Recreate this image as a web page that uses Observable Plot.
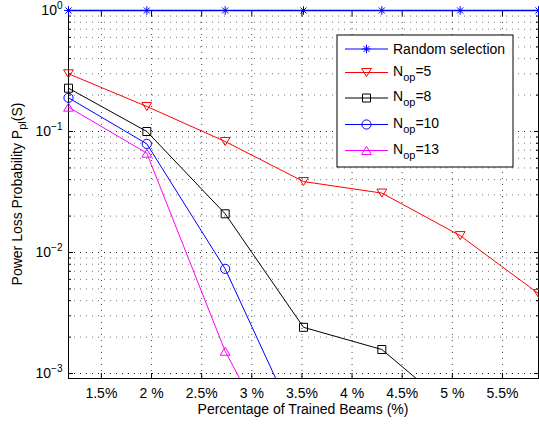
<!DOCTYPE html>
<html><head><meta charset="utf-8">
<script src="https://cdn.jsdelivr.net/npm/d3@7"></script>
<script src="https://cdn.jsdelivr.net/npm/@observablehq/plot@0.6"></script>
<style>
body{margin:0;background:#fff;}
#chart{width:539px;height:424px;}
</style></head><body><div id="chart"></div>
<script>
// ---- data ----
const percent = [1.171875, 1.953125, 2.734375, 3.515625, 4.296875, 5.078125, 5.859375];
const randomSel = [1, 1, 1, 1, 1, 1, 1];
const nop5  = [0.30, 0.161, 0.0827, 0.0386, 0.031, 0.0138, 0.00458];
const nop8  = [0.228, 0.100, 0.0209, 0.00241, 0.00158, 0.00045];
const nop10 = [0.19, 0.079, 0.00733, 0.00029];
const nop13 = [0.159, 0.0662, 0.00153, 0.000093];
const seriesNames = ["Random selection", "N_op=5", "N_op=8", "N_op=10", "N_op=13"];
const seriesColors = ["#0000ff", "#ff0000", "#000000", "#0000ff", "#ff00ff"];
const xTicks = [1.5, 2, 2.5, 3, 3.5, 4, 4.5, 5, 5.5];
const xTickLabels = ["1.5%", "2 %", "2.5%", "3 %", "3.5%", "4 %", "4.5%", "5 %", "5.5%"];
const yTicks = [1e-3, 1e-2, 1e-1, 1];
const yTickLabels = ["10^\u22123", "10^\u22122", "10^\u22121", "10^0"];
const xLabel = "Percentage of Trained Beams (%)";
const yLabelParts = ["Power Loss Probability P", "pl", "(S)"];
const yDomain = [9.1e-4, 1];

// ---- symbols (MATLAB-like markers) ----
const R = s => Math.sqrt(s / Math.PI);
const triDown = {draw(c, s){const r = R(s); c.moveTo(-r, -0.82*r); c.lineTo(r, -0.82*r); c.lineTo(0, 0.82*r); c.closePath();}};
const triUp = {draw(c, s){const r = R(s); c.moveTo(-r, 0.82*r); c.lineTo(r, 0.82*r); c.lineTo(0, -0.82*r); c.closePath();}};
const square = {draw(c, s){const r = R(s); c.rect(-r, -r, 2*r, 2*r);}};
const circle = {draw(c, s){const r = R(s); c.moveTo(r, 0); c.arc(0, 0, r, 0, 2*Math.PI);}};
const star = {draw(c, s){const r = R(s), d = r*0.7071;
  c.moveTo(-r, 0); c.lineTo(r, 0); c.moveTo(0, -r); c.lineTo(0, r);
  c.moveTo(-d, -d); c.lineTo(d, d); c.moveTo(-d, d); c.lineTo(d, -d);}};

const seriesValues = [randomSel, nop5, nop8, nop10, nop13];
const seriesSymbols = [star, triDown, square, circle, triUp];
const seriesR = [4.3, 4.9, 4, 4.6, 4.9];

const seriesRows = seriesValues.map((vals, k) => vals.map((v, i) => ({x: percent[i], y: v, s: seriesNames[k]})));

const yMinor = [];
for (let e = -4; e <= 0; e++) for (let m = 2; m <= 9; m++) {
  const v = m * Math.pow(10, e);
  if (v >= yDomain[0] && v <= yDomain[1]) yMinor.push(v);
}

const blank = () => "";
const dotted = {strokeDasharray: "1,5", strokeWidth: 1};
const marks = [
  Plot.ruleY(yMinor, {y: d => d, stroke: "#777", ...dotted}),
  Plot.ruleY(yTicks, {y: d => d, stroke: "#222", ...dotted}),
  Plot.ruleX(xTicks, {x: d => d, stroke: "#444", ...dotted}),
  Plot.frame({stroke: "#000", strokeWidth: 1}),
  Plot.axisX(xTicks, {anchor: "bottom", tickSize: 5, insetBottom: 5, tickFormat: blank, label: null}),
  Plot.axisX(xTicks, {anchor: "top", tickSize: 5, insetTop: 5, tickFormat: blank, label: null}),
  Plot.axisY(yTicks, {anchor: "left", tickSize: 5, insetLeft: 5, tickFormat: blank, label: null}),
  Plot.axisY(yTicks, {anchor: "right", tickSize: 5, insetRight: 5, tickFormat: blank, label: null}),
  Plot.axisY(yMinor, {anchor: "left", tickSize: 3, insetLeft: 3, tickFormat: blank, label: null}),
  Plot.axisY(yMinor, {anchor: "right", tickSize: 3, insetRight: 3, tickFormat: blank, label: null}),
  Plot.axisX(xTicks, {anchor: "bottom", tickSize: 0, tickPadding: 10, tickFormat: d => xTickLabels[xTicks.indexOf(d)], label: null, fill: "#000"}),
  Plot.axisY(yTicks, {anchor: "left", tickSize: 0, tickPadding: 6, tickFormat: d => yTickLabels[yTicks.indexOf(d)], label: null, fill: "#000"})
];
seriesRows.forEach((rows, k) => {
  marks.push(Plot.line(rows, {x: "x", y: "y", stroke: seriesColors[k], strokeWidth: k === 0 ? 1.3 : 1, clip: k !== 0}));
  marks.push(Plot.dot(rows, {x: "x", y: "y", symbol: seriesSymbols[k], r: seriesR[k], fill: "none", stroke: seriesColors[k], strokeWidth: 1,
    filter: d => d.y >= yDomain[0]}));
});

const plot = Plot.plot({
  width: 539, height: 424,
  marginLeft: 68, marginRight: 1, marginTop: 10, marginBottom: 46,
  x: {domain: [percent[0], percent[percent.length - 1]]},
  y: {type: "log", domain: yDomain},
  style: {fontFamily: "'Liberation Sans', Arial, sans-serif", fontSize: "14px", background: "#fff", color: "#000"},
  marks
});
document.getElementById("chart").appendChild(plot);

// ---- post-processing: superscripts, labels, legend ----
const svg = d3.select(plot);
svg.selectAll("text").each(function() {
  const t = d3.select(this), s = t.text();
  if (s.startsWith("10^")) {
    t.text("10");
    t.append("tspan").attr("dy", "-0.6em").attr("font-size", "10px").text(s.slice(3));
  }
});

svg.append("text").attr("x", 303).attr("y", 414).attr("text-anchor", "middle").attr("fill", "#000").text(xLabel);

const yl = svg.append("text").attr("transform", "translate(22,194) rotate(-90)").attr("text-anchor", "middle").attr("fill", "#000");
yl.append("tspan").text(yLabelParts[0]);
yl.append("tspan").attr("dy", "4").attr("font-size", "11px").text(yLabelParts[1]);
yl.append("tspan").attr("dy", "-4").text(yLabelParts[2]);

const lg = svg.append("g");
lg.append("rect").attr("x", 337).attr("y", 35).attr("width", 176).attr("height", 132).attr("fill", "#fff").attr("stroke", "#000");
const rowY = [49, 72.5, 98, 124.5, 150.5];
seriesNames.forEach((name, k) => {
  const y = rowY[k];
  lg.append("line").attr("x1", 345).attr("x2", 388).attr("y1", y).attr("y2", y).attr("stroke", seriesColors[k]).attr("stroke-width", 1);
  const p = d3.path(); seriesSymbols[k].draw(p, seriesR[k]*seriesR[k]*Math.PI);
  lg.append("path").attr("d", p.toString()).attr("transform", `translate(366.5,${y})`).attr("fill", "none").attr("stroke", seriesColors[k]);
  const t = lg.append("text").attr("x", 393).attr("text-anchor", "start").attr("fill", "#000");
  if (name.startsWith("N_op")) {
    t.attr("y", y + 3);
    t.append("tspan").text("N");
    t.append("tspan").attr("dy", 5).attr("font-size", "11px").text("op");
    t.append("tspan").attr("dy", -5).text(name.slice(4));
  } else {
    t.attr("y", y + 5).text(name);
  }
});
</script></body></html>
